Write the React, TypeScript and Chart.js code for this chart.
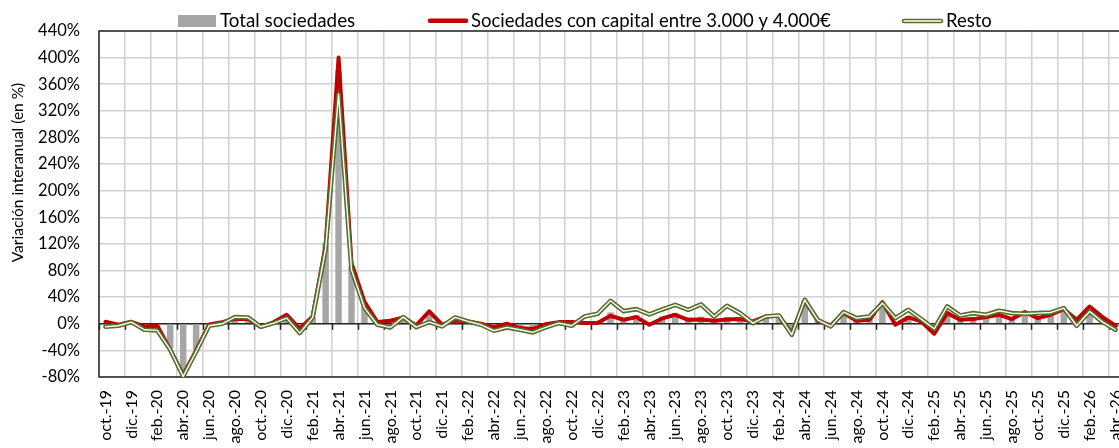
import React, { useEffect, useRef } from 'react';
import { Chart, registerables } from 'chart.js';

Chart.register(...registerables);

const categories = [
  'oct.-19', 'nov.-19', 'dic.-19',
  'ene.-20', 'feb.-20', 'mar.-20', 'abr.-20', 'may.-20', 'jun.-20', 'jul.-20', 'ago.-20', 'sep.-20', 'oct.-20', 'nov.-20', 'dic.-20',
  'ene.-21', 'feb.-21', 'mar.-21', 'abr.-21', 'may.-21', 'jun.-21', 'jul.-21', 'ago.-21', 'sep.-21', 'oct.-21', 'nov.-21', 'dic.-21',
  'ene.-22', 'feb.-22', 'mar.-22', 'abr.-22', 'may.-22', 'jun.-22', 'jul.-22', 'ago.-22', 'sep.-22', 'oct.-22', 'nov.-22', 'dic.-22',
  'ene.-23', 'feb.-23', 'mar.-23', 'abr.-23', 'may.-23', 'jun.-23', 'jul.-23', 'ago.-23', 'sep.-23', 'oct.-23', 'nov.-23', 'dic.-23',
  'ene.-24', 'feb.-24', 'mar.-24', 'abr.-24', 'may.-24', 'jun.-24', 'jul.-24', 'ago.-24', 'sep.-24', 'oct.-24', 'nov.-24', 'dic.-24',
  'ene.-25', 'feb.-25', 'mar.-25', 'abr.-25', 'may.-25', 'jun.-25', 'jul.-25', 'ago.-25', 'sep.-25', 'oct.-25', 'nov.-25', 'dic.-25',
  'ene.-26', 'feb.-26', 'mar.-26', 'abr.-26',
];

// Variación interanual (%) - Total sociedades (barras)
const totalSociedades = [
  1, -2, 3,
  -5, -5, -37, -78, -39, -1.5, 2, 8, 8, -4.5, 2, 12,
  -9, 10, 122, 380, 86, 30, 1.5, 2, 9.5, -3, 14, -2,
  6, 3.5, -0.5, -6.5, -1.5, -7, -9, -2, 2, 1.5, 3.5, 4.5,
  17, 9, 13, 2, 11, 16, 9.5, 10.5, 6, 10, 9, 3,
  11, 12, -14.5, 35, 5, -3, 16.5, 5.5, 7, 32, 1, 12,
  4.5, -13, 18.5, 7.5, 9, 11, 15, 9, 16.5, 10.5, 14.5, 22.5,
  4, 24, 8.5, -5,
];

// Sociedades con capital entre 3.000 y 4.000€
const capital3000a4000 = [
  3, -1.5, 3,
  -4, -3, -39, -77, -40, -1, 2.5, 7, 7.5, -4.5, 2.5, 13.5,
  -7.5, 11, 118, 400, 91, 33, 2.5, 4.5, 9.5, -2.5, 18.5, -1.5,
  5, 3.5, 0, -5, 0, -6.5, -8, -0.5, 2.5, 2.5, 1, 1,
  12, 6, 10, -1.5, 8, 13.5, 6, 6.5, 4.5, 6.5, 7, 3.5,
  11, 12, -14, 34.5, 4.5, -2.5, 16, 4.5, 6, 32.5, -1.5, 9.5,
  3.5, -15, 16, 6, 7, 10, 13.5, 7, 17.5, 8.5, 13.5, 22,
  6, 26, 10, -3,
];

// Resto
const resto = [
  -4.5, -3, 2.5,
  -9, -10, -39, -79, -42, -3, 0, 10, 9.5, -4.5, 1, 8.5,
  -14, 9.5, 112, 345, 81, 24, -1.5, -5.5, 10, -5, 2.5, -4,
  9.5, 3.5, -1.5, -10.5, -5.5, -9, -13, -5.5, 1, -3, 11, 15,
  34.5, 19, 22, 14, 21.5, 28.5, 21, 29, 11, 27, 16, 1,
  11, 12.5, -16.5, 36, 6, -4, 17.5, 8.5, 11, 31, 8.5, 21,
  7, -7.5, 26, 12.5, 16, 13.5, 19.5, 16, 15, 16, 17, 23.5,
  -3, 18.5, 2.5, -9,
];

const yMin = -80;
const yMax = 440;
const yStep = 40;

const legendLabels = ['Total sociedades', 'Sociedades con capital entre 3.000 y 4.000€', 'Resto'];
const axisTitle = 'Variación interanual (en %)';

const GREY = '#a6a6a6';
const RED = '#c00000';
const GREEN = '#566d2c';
const FONT = 'Lato, "Noto Sans", sans-serif';

const decorPlugin = {
  id: 'decor',
  beforeDatasetsDraw(chart: any) {
    const { ctx, chartArea: a, scales } = chart;
    const xs = scales.x;
    const y0 = scales.y.getPixelForValue(0);
    const w = xs.getPixelForValue(1) - xs.getPixelForValue(0);
    ctx.save();
    ctx.strokeStyle = '#262626';
    ctx.lineWidth = 1.5;
    ctx.strokeRect(a.left, a.top, a.right - a.left, a.bottom - a.top);
    ctx.beginPath();
    ctx.moveTo(a.left, y0);
    ctx.lineTo(a.right, y0);
    for (let i = 0; i <= categories.length; i += 2) {
      const px = Math.round(xs.getPixelForValue(0) - w / 2 + i * w) + 0.5;
      ctx.moveTo(px, y0);
      ctx.lineTo(px, y0 + 6);
    }
    ctx.stroke();
    ctx.restore();
  },
  afterDraw(chart: any) {
    const { ctx } = chart;
    ctx.save();
    ctx.fillStyle = '#000';
    ctx.textBaseline = 'alphabetic';
    ctx.textAlign = 'left';
    const base = 26.5;
    ctx.fillStyle = GREY;
    ctx.fillRect(178, 15, 38, 12);
    ctx.fillStyle = '#000';
    ctx.font = '18.8px ' + FONT;
    ctx.fillText(legendLabels[0], 220, base);
    ctx.lineCap = 'round';
    ctx.strokeStyle = RED;
    ctx.lineWidth = 4.5;
    ctx.beginPath();
    ctx.moveTo(430, 20.7);
    ctx.lineTo(466, 20.7);
    ctx.stroke();
    ctx.font = '18.5px ' + FONT;
    ctx.fillText(legendLabels[1], 471, base);
    ctx.strokeStyle = GREEN;
    ctx.lineWidth = 4.6;
    ctx.beginPath();
    ctx.moveTo(904, 21);
    ctx.lineTo(941, 21);
    ctx.stroke();
    ctx.strokeStyle = '#ffffff';
    ctx.lineWidth = 1.4;
    ctx.beginPath();
    ctx.moveTo(904, 21);
    ctx.lineTo(941, 21);
    ctx.stroke();
    ctx.fillText(legendLabels[2], 946, base);
    ctx.translate(18, 172.5);
    ctx.rotate(-Math.PI / 2);
    ctx.font = '15.5px ' + FONT;
    ctx.textAlign = 'center';
    ctx.textBaseline = 'middle';
    ctx.fillText(axisTitle, 0, 0);
    ctx.restore();
  },
};

export default function App() {
  const ref = useRef<HTMLCanvasElement>(null);
  useEffect(() => {
    if (!ref.current) return;
    const lineCommon = {
      type: 'line' as const,
      pointRadius: 0,
      pointHoverRadius: 0,
      tension: 0,
      borderJoinStyle: 'round' as const,
      borderCapStyle: 'round' as const,
      fill: false,
    };
    const chart = new Chart(ref.current, {
      type: 'bar',
      data: {
        labels: categories,
        datasets: [
          { ...lineCommon, label: 'Resto (interior)', data: resto, borderColor: '#ffffff', borderWidth: 1.4, order: 0 },
          { ...lineCommon, label: legendLabels[2], data: resto, borderColor: GREEN, borderWidth: 4.6, order: 1 },
          { ...lineCommon, label: legendLabels[1], data: capital3000a4000, borderColor: RED, borderWidth: 4, order: 2 },
          {
            type: 'bar',
            label: legendLabels[0],
            data: totalSociedades,
            backgroundColor: GREY,
            barPercentage: 0.5,
            categoryPercentage: 1,
            order: 3,
          },
        ] as any,
      },
      options: {
        responsive: false,
        devicePixelRatio: 1,
        animation: false,
        layout: { padding: { top: 31, left: 0, right: 4, bottom: 0 } },
        plugins: { legend: { display: false }, tooltip: { enabled: false } },
        scales: {
          x: {
            type: 'category',
            offset: true,
            grid: {
              offset: true,
              drawTicks: false,
              lineWidth: 1.5,
              color: (c: any) => (c.index % 2 === 0 ? '#d0d0d0' : 'rgba(0,0,0,0)'),
            },
            border: { display: false },
            ticks: {
              autoSkip: false,
              maxRotation: 90,
              minRotation: 90,
              padding: 13,
              color: '#000',
              font: { family: FONT, size: 16 },
              callback: (_v: any, i: number) => (i % 2 === 0 ? categories[i] : ''),
            },
            afterFit: (s: any) => {
              s.height = 71;
              s.paddingLeft = 0;
              s.paddingRight = 0;
            },
          },
          y: {
            min: yMin,
            max: yMax,
            grid: { drawTicks: false, lineWidth: 1.5, color: '#d0d0d0' },
            border: { display: false },
            ticks: {
              stepSize: yStep,
              padding: 19,
              color: '#000',
              font: { family: FONT, size: 16.5 },
              callback: (v: any) => v + '%',
            },
            afterFit: (s: any) => {
              s.width = 99;
            },
          },
        },
      } as any,
      plugins: [decorPlugin],
    });
    return () => chart.destroy();
  }, []);

  return (
    <div style={{ position: 'fixed', left: 0, top: 0, width: 1119, height: 448, overflow: 'hidden', background: '#fff' }}>
      <canvas ref={ref} width={1126} height={448} style={{ display: 'block', width: 1126, height: 448 }} />
    </div>
  );
}
